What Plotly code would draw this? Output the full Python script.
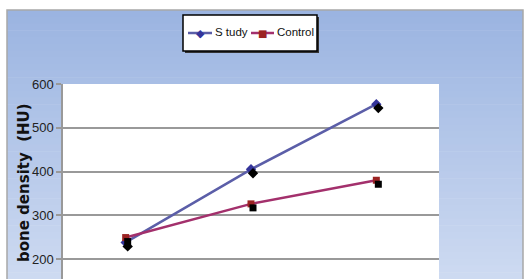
import plotly.graph_objects as go

# ---- data ----
categories = ["Baseline", "3 months", "6 months"]
study = [238, 405, 554]
control = [249, 326, 380]
y_ticks = [200, 300, 400, 500, 600]
series_names = ["S tudy", "Control"]
line_colors = ["#5b5ea8", "#a3306c"]
marker_colors = ["#34349a", "#9b2323"]

W, H = 531, 279
fig = go.Figure()

# shadow markers (drawn on an overlaid, slightly offset axis)
for vals, sym, sz in [(study, "diamond", 8), (control, "square", 7)]:
    fig.add_trace(go.Scatter(x=categories, y=vals, mode="markers", xaxis="x2", yaxis="y2",
                             marker=dict(symbol=sym, size=sz, color="black"),
                             showlegend=False, hoverinfo="skip"))

for vals, name, lc, mc, sym, sz in [(study, series_names[0], line_colors[0], marker_colors[0], "diamond", 8),
                                     (control, series_names[1], line_colors[1], marker_colors[1], "square", 7)]:
    fig.add_trace(go.Scatter(x=categories, y=vals, mode="lines+markers", name=name,
                             line=dict(color=lc, width=2.5),
                             marker=dict(symbol=sym, size=sz, color=mc), showlegend=False))


def px_x(v):
    return v / W


def px_y(v):
    return 1 - v / H


# background gradient strips
top = (155, 180, 225)
bot = (205, 218, 241)
x0p, x1p = 7 / W, 523 / W
y_top = px_y(10)
n = 40
shapes = []
for i in range(n):
    t = i / (n - 1)
    c = tuple(int(round(top[k] + (bot[k] - top[k]) * t)) for k in range(3))
    ya = y_top - y_top * i / n
    yb = y_top - y_top * (i + 1) / n
    shapes.append(dict(type="rect", xref="paper", yref="paper", x0=x0p, x1=x1p,
                       y0=yb - 0.002, y1=ya, fillcolor="rgb(%d,%d,%d)" % c,
                       line=dict(width=0), layer="below"))
# frame
shapes.append(dict(type="rect", xref="paper", yref="paper", x0=x0p, x1=x1p, y0=-0.05, y1=y_top,
                   line=dict(color="#a8a8a8", width=1.5), fillcolor="rgba(0,0,0,0)", layer="below"))
# white plot area
px0, px1 = 63 / W, 439 / W
py1 = px_y(84)
shapes.append(dict(type="rect", xref="paper", yref="paper", x0=px0, x1=px1, y0=0, y1=py1,
                   fillcolor="white", line=dict(width=0), layer="below"))

# legend box with shadow
shapes.append(dict(type="rect", xref="paper", yref="paper", x0=px_x(185), x1=px_x(319),
                   y0=px_y(53), y1=px_y(17), fillcolor="#333333", line=dict(width=0)))
shapes.append(dict(type="rect", xref="paper", yref="paper", x0=px_x(183), x1=px_x(317),
                   y0=px_y(51), y1=px_y(15), fillcolor="white", line=dict(color="black", width=1.5)))

annotations = []
legend_items = [(188, 212, 200, 213), (251, 274, 262, 275)]
sym_chars = ["◆", "■"]
sym_sizes = [11, 10]
for i, (lx0, lx1, mx, tx) in enumerate(legend_items):
    shapes.append(dict(type="line", xref="paper", yref="paper", x0=px_x(lx0), x1=px_x(lx1),
                       y0=px_y(33), y1=px_y(33), line=dict(color=line_colors[i], width=2.5)))
    annotations.append(dict(text=sym_chars[i], xref="paper", yref="paper", x=px_x(mx), y=px_y(33),
                            xanchor="center", yanchor="middle", showarrow=False,
                            font=dict(family="DejaVu Sans", size=sym_sizes[i], color=marker_colors[i])))
    annotations.append(dict(text=series_names[i], xref="paper", yref="paper", x=px_x(tx), y=px_y(32),
                            xanchor="left", yanchor="middle", showarrow=False,
                            font=dict(family="Liberation Sans, Arial, sans-serif", size=11.5, color="#111")))

annotations.append(dict(text="<b>bone density  (HU)</b>", xref="paper", yref="paper",
                        x=px_x(24), y=px_y(183), xanchor="center", yanchor="middle",
                        textangle=-90, showarrow=False,
                        font=dict(family="DejaVu Sans, sans-serif", size=15, color="#111")))

yr_top = 600
ppu = (259 - 84) / 400.0
yr = [200 - (279 - 259) / ppu, yr_top]
dy = 4 / ppu
dx = 2 * 3 / 376.0

fig.update_layout(
    width=W, height=H,
    margin=dict(l=0, r=0, t=0, b=0, autoexpand=False),
    paper_bgcolor="white",
    plot_bgcolor="rgba(0,0,0,0)",
    shapes=shapes,
    annotations=annotations,
    showlegend=False,
    xaxis=dict(domain=[px0, px1], range=[-0.5, 2.5], type="category",
               showticklabels=False, showgrid=False, zeroline=False,
               showline=False, ticks=""),
    yaxis=dict(domain=[0, py1], range=yr, tickvals=y_ticks, showgrid=True,
               gridcolor="#999999", gridwidth=1.5, zeroline=False,
               showline=True, linecolor="#999999", linewidth=1.5,
               ticks="outside", ticklen=5, tickcolor="#999999", tickwidth=1.5,
               tickfont=dict(family="Liberation Sans, Arial, sans-serif", size=13, color="#222")),
    xaxis2=dict(domain=[px0, px1], range=[-0.5 - dx, 2.5 - dx], type="category", overlaying="x",
                visible=False),
    yaxis2=dict(domain=[0, py1], range=[yr[0] + dy, yr[1] + dy], overlaying="y", visible=False),
)

fig.write_html("out.html")
